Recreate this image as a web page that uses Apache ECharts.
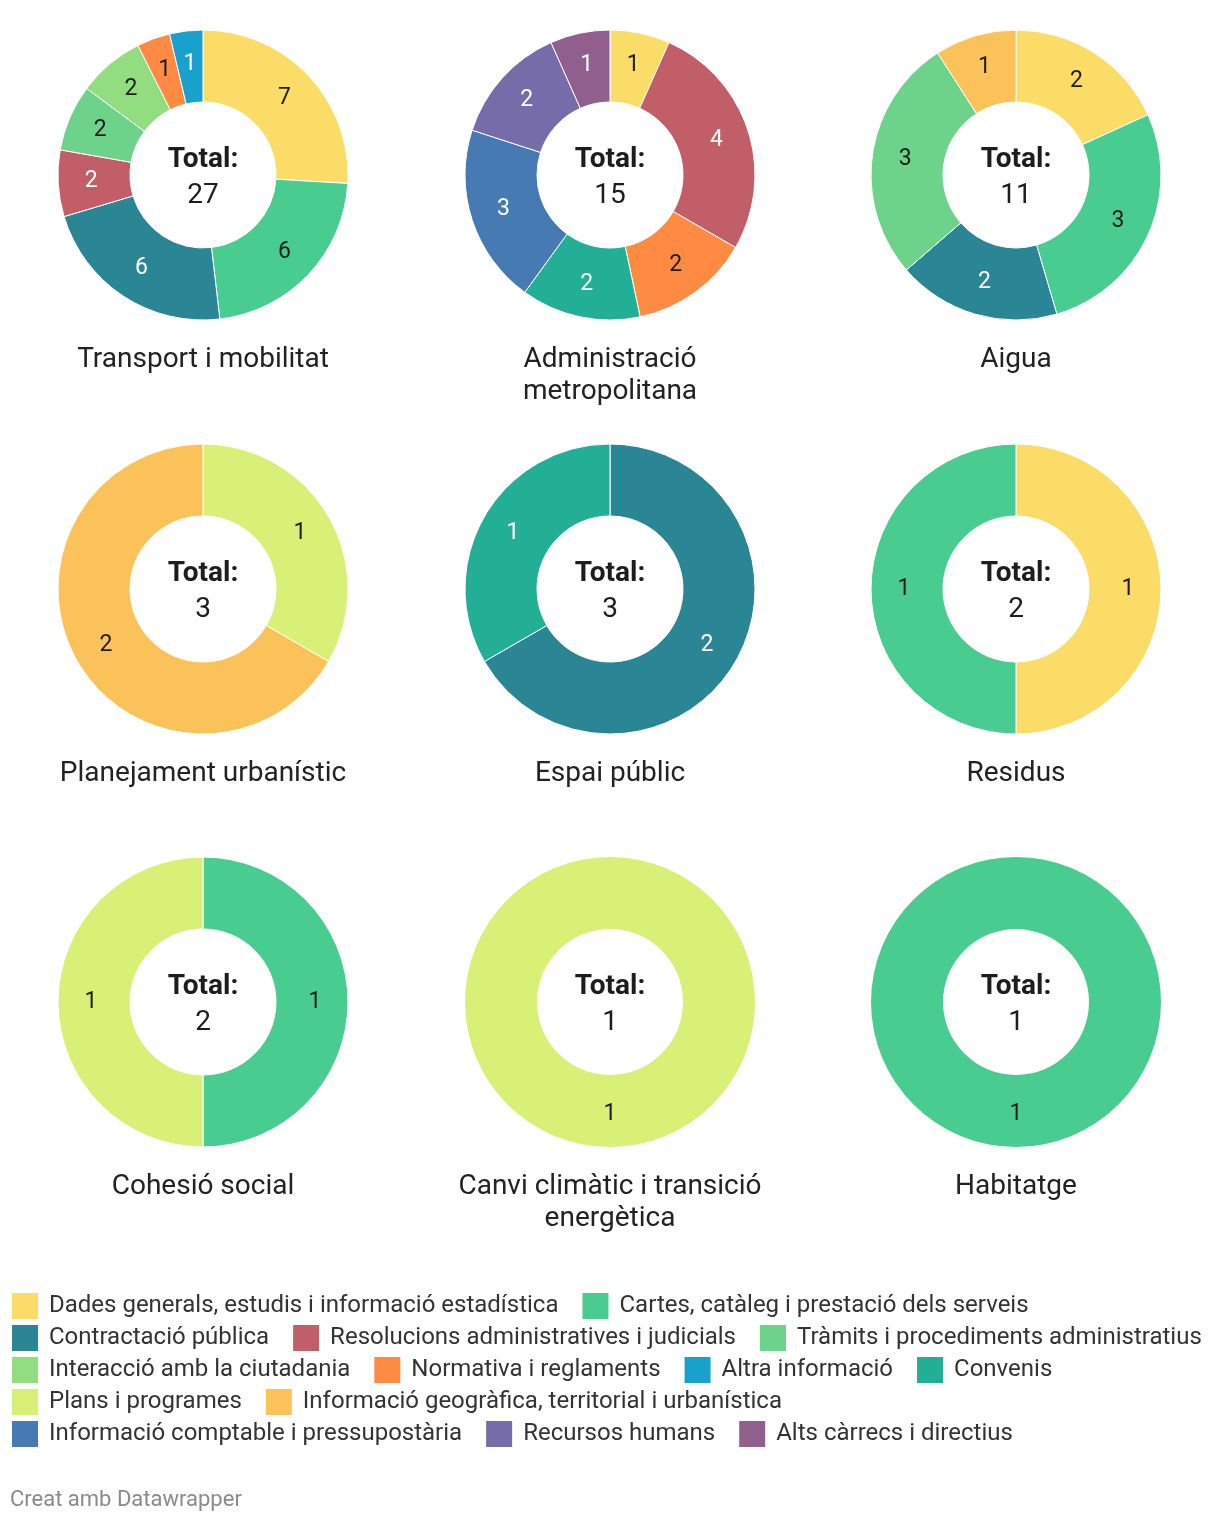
<!DOCTYPE html>
<html>
<head>
<meta charset="utf-8">
<script src="https://cdn.jsdelivr.net/npm/echarts@6/dist/echarts.min.js"></script>
<style>
html,body{margin:0;padding:0;background:#fff;}
#chart{width:1220px;height:1522px;}
</style>
</head>
<body>
<div id="chart"></div>
<script>
// ---- DATA ----
const categories = [
  'Dades generals, estudis i informació estadística',
  'Cartes, catàleg i prestació dels serveis',
  'Contractació pública',
  'Resolucions administratives i judicials',
  'Tràmits i procediments administratius',
  'Interacció amb la ciutadania',
  'Normativa i reglaments',
  'Altra informació',
  'Convenis',
  'Plans i programes',
  'Informació geogràfica, territorial i urbanística',
  'Informació comptable i pressupostària',
  'Recursos humans',
  'Alts càrrecs i directius'
];
const panelTitles = [
  'Transport i mobilitat', 'Administració\nmetropolitana', 'Aigua',
  'Planejament urbanístic', 'Espai públic', 'Residus',
  'Cohesió social', 'Canvi climàtic i transició\nenergètica', 'Habitatge'
];
// slices: [category index, value], clockwise from top
const transportSlices = [[0,7],[1,6],[2,6],[3,2],[4,2],[5,2],[6,1],[7,1]];
const administracioSlices = [[0,1],[3,4],[6,2],[8,2],[11,3],[12,2],[13,1]];
const aiguaSlices = [[0,2],[1,3],[2,2],[4,3],[10,1]];
const planejamentSlices = [[9,1],[10,2]];
const espaiSlices = [[2,2],[8,1]];
const residusSlices = [[0,1],[1,1]];
const cohesioSlices = [[1,1],[9,1]];
const canviSlices = [[9,1]];
const habitatgeSlices = [[1,1]];
const legendRows = [[0,1],[2,3,4],[5,6,7,8],[9,10],[11,12,13]];

// ---- STYLE ----
const colors = ['#fadc66','#48cc90','#2a8595','#c25e68','#6dd38a','#91dd80','#ff8b43',
  '#18a1cd','#23ae96','#d8f076','#fbc25a','#457bb2','#766ca9','#915f8e'];
const whiteLabel = [2,3,7,8,11,12,13];
const allSlices = [transportSlices, administracioSlices, aiguaSlices, planejamentSlices,
  espaiSlices, residusSlices, cohesioSlices, canviSlices, habitatgeSlices];
const colX = [203, 610, 1016];
const rowY = [175, 589, 1002];
const FONT = 'Roboto, "Noto Sans", sans-serif';

const series = [];
const graphics = [];
allSlices.forEach((slices, i) => {
  const cx = colX[i % 3], cy = rowY[Math.floor(i / 3)];
  const total = slices.reduce((s, d) => s + d[1], 0);
  series.push({
    type: 'pie',
    center: [cx, cy],
    radius: [73, 145],
    startAngle: 90,
    clockwise: true,
    avoidLabelOverlap: false,
    silent: true,
    minAngle: 0,
    itemStyle: { borderColor: '#fff', borderWidth: slices.length > 1 ? 1 : 0 },
    label: { show: true, position: 'inside', fontFamily: FONT, fontSize: 23, formatter: '{c}' },
    labelLine: { show: false },
    emphasis: { disabled: true },
    data: slices.map(d => ({
      name: categories[d[0]],
      value: d[1],
      itemStyle: { color: colors[d[0]] },
      label: { color: whiteLabel.includes(d[0]) ? '#ffffff' : '#1d1d1d' }
    }))
  });
  graphics.push({
    type: 'text', x: cx, y: cy - 15, silent: true,
    style: { text: 'Total:', fontFamily: FONT, fontSize: 28, fontWeight: 'bold', fill: '#1d1d1d',
      textAlign: 'center', textVerticalAlign: 'middle' }
  });
  graphics.push({
    type: 'text', x: cx, y: cy + 21, silent: true,
    style: { text: String(total), fontFamily: FONT, fontSize: 28, fill: '#1d1d1d',
      textAlign: 'center', textVerticalAlign: 'middle' }
  });
  graphics.push({
    type: 'text', x: cx, y: cy + 169, silent: true,
    style: { text: panelTitles[i], fontFamily: FONT, fontSize: 28, fill: '#222',
      textAlign: 'center', textVerticalAlign: 'top', lineHeight: 32 }
  });
});
graphics.push({
  type: 'text', x: 10, y: 1500, silent: true,
  style: { text: 'Creat amb Datawrapper', fontFamily: FONT, fontSize: 22, fill: '#8a8a8a',
    textAlign: 'left', textVerticalAlign: 'middle' }
});

const legends = legendRows.map((row, r) => ({
  data: row.map(k => categories[k]),
  left: 10,
  top: 1291 + r * 32,
  orient: 'horizontal',
  icon: 'rect',
  itemWidth: 28,
  itemHeight: 28,
  itemGap: 22,
  padding: 0,
  selectedMode: false,
  textStyle: { fontFamily: FONT, fontSize: 24, color: '#333', padding: [0, 0, 0, 5] }
}));

const chart = echarts.init(document.getElementById('chart'), null, { renderer: 'canvas' });
chart.setOption({
  animation: false,
  backgroundColor: '#fff',
  legend: legends,
  series: series,
  graphic: graphics
});
</script>
</body>
</html>
